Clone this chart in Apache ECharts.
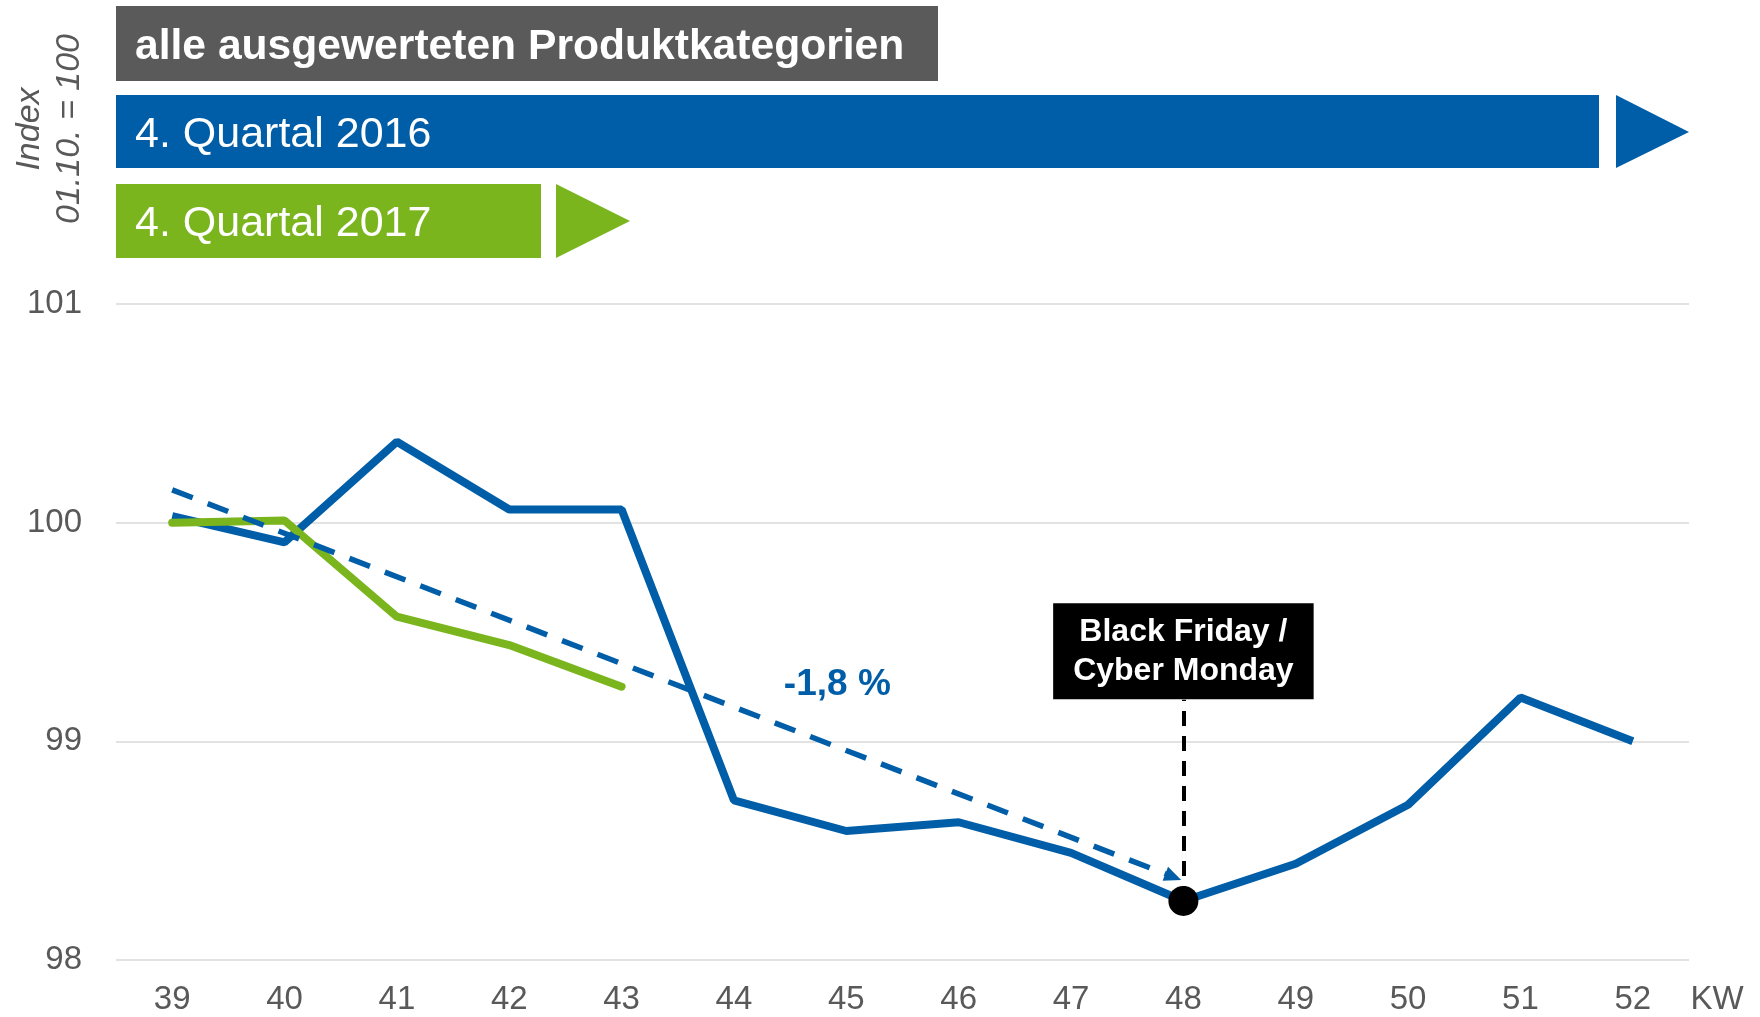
<!DOCTYPE html>
<html>
<head>
<meta charset="utf-8">
<script src="https://cdn.jsdelivr.net/npm/echarts@6/dist/echarts.min.js"></script>
<style>
  html, body { margin: 0; padding: 0; background: #fff; }
  #chart { width: 1760px; height: 1017px; }
</style>
</head>
<body>
<div id="chart"></div>
<script>
const weeks = ['39', '40', '41', '42', '43', '44', '45', '46', '47', '48', '49', '50', '51', '52']
const q2016 = [100.03, 99.91, 100.37, 100.06, 100.06, 98.73, 98.59, 98.63, 98.49, 98.27, 98.44, 98.71, 99.20, 99.00]
const q2017 = [100.0, 100.01, 99.57, 99.44, 99.25]
// trend arrow: start week / value, end week / value
const trendFrom = [39, 100.15]
const trendTo = [47.91, 98.38]
const trendLabel = '-1,8 %'
const trendLabelAt = [44.92, 99.26]
const eventWeek = '48'
const eventValue = 98.27
const eventBoxValue = 99.19
const eventText = 'Black Friday /\nCyber Monday'

const blue = '#005EA8'
const green = '#7AB51D'
const grey = '#595959'
const font = 'Liberation Sans, Arial, sans-serif'

const chart = echarts.init(document.getElementById('chart'))
const option = {
  animation: false,
  grid: { left: 116, right: 71, top: 304, bottom: 57 },
  xAxis: [
    {
      type: 'category',
      data: weeks,
      boundaryGap: true,
      axisLine: { show: false },
      axisTick: { show: false },
      axisLabel: { color: grey, fontSize: 33, fontFamily: font, margin: 23 }
    },
    // hidden value axis for annotations between weeks
    { type: 'value', min: 38.5, max: 52.5, show: false }
  ],
  yAxis: {
    type: 'value',
    min: 98,
    max: 101,
    interval: 1,
    axisLine: { show: false },
    axisTick: { show: false },
    axisLabel: { color: grey, fontSize: 33, fontFamily: font, margin: 34 },
    splitLine: { lineStyle: { color: '#D9D9D9', width: 1.5 } }
  },
  series: [
    {
      name: '4. Quartal 2016',
      type: 'line',
      data: q2016,
      symbol: 'none',
      z: 3,
      lineStyle: { color: blue, width: 8 },
      markLine: {
        silent: true,
        symbol: ['none', 'none'],
        lineStyle: { color: '#000', width: 4, type: [15, 10] },
        label: { show: false },
        data: [[{ coord: [eventWeek, eventValue] }, { coord: [eventWeek, eventBoxValue] }]]
      },
      markPoint: {
        silent: true,
        data: [
          {
            coord: [eventWeek, eventValue],
            symbol: 'circle',
            symbolSize: 30,
            itemStyle: { color: '#000' },
            label: { show: false }
          },
          {
            coord: [eventWeek, eventBoxValue],
            symbol: 'circle',
            symbolSize: 1,
            itemStyle: { color: 'rgba(0,0,0,0)' },
            label: {
              show: true,
              position: 'top',
              distance: 0,
              formatter: eventText,
              color: '#fff',
              fontSize: 32,
              fontWeight: 'bold',
              fontFamily: font,
              lineHeight: 39,
              align: 'center',
              backgroundColor: '#000',
              padding: [9, 20, 9, 20]
            }
          }
        ]
      }
    },
    {
      name: '4. Quartal 2017',
      type: 'line',
      data: q2017,
      symbol: 'none',
      z: 4,
      lineStyle: { color: green, width: 8, cap: 'round' }
    },
    {
      name: 'Trend',
      type: 'scatter',
      xAxisIndex: 1,
      data: [],
      z: 2,
      markLine: {
        silent: true,
        symbol: ['none', 'triangle'],
        symbolSize: [15, 17],
        lineStyle: { color: blue, width: 5.5, type: [22, 16] },
        label: { show: false },
        data: [[{ coord: trendFrom }, { coord: trendTo }]]
      },
      markPoint: {
        silent: true,
        data: [{
          coord: trendLabelAt,
          symbol: 'circle',
          symbolSize: 1,
          itemStyle: { color: 'rgba(0,0,0,0)' },
          label: {
            show: true,
            position: 'inside',
            formatter: trendLabel,
            color: blue,
            fontSize: 37,
            fontWeight: 'bold',
            fontFamily: font
          }
        }]
      }
    }
  ],
  graphic: [
    // y axis caption
    {
      type: 'text', x: 30, y: 129, rotation: Math.PI / 2,
      style: { text: 'Index', fill: grey, font: 'italic 34px ' + font, align: 'center', verticalAlign: 'middle' }
    },
    {
      type: 'text', x: 70, y: 129, rotation: Math.PI / 2,
      style: { text: '01.10. = 100', fill: grey, font: 'italic 34px ' + font, align: 'center', verticalAlign: 'middle' }
    },
    // x axis unit
    {
      type: 'text', x: 1717, y: 1000,
      style: { text: 'KW', fill: grey, font: '33px ' + font, align: 'center', verticalAlign: 'middle' }
    },
    // banners
    { type: 'rect', shape: { x: 116, y: 6, width: 822, height: 75 }, style: { fill: '#5A5A5A' } },
    {
      type: 'text', x: 135, y: 47,
      style: { text: 'alle ausgewerteten Produktkategorien', fill: '#fff', font: 'bold 42.6px ' + font, verticalAlign: 'middle' }
    },
    { type: 'rect', shape: { x: 116, y: 95, width: 1483, height: 73 }, style: { fill: blue } },
    { type: 'polygon', shape: { points: [[1616, 95], [1689, 132], [1616, 168]] }, style: { fill: blue } },
    {
      type: 'text', x: 135, y: 135,
      style: { text: '4. Quartal 2016', fill: '#fff', font: '43px ' + font, verticalAlign: 'middle' }
    },
    { type: 'rect', shape: { x: 116, y: 184, width: 425, height: 74 }, style: { fill: green } },
    { type: 'polygon', shape: { points: [[556, 184], [630, 221], [556, 258]] }, style: { fill: green } },
    {
      type: 'text', x: 135, y: 224,
      style: { text: '4. Quartal 2017', fill: '#fff', font: '43px ' + font, verticalAlign: 'middle' }
    }
  ]
}
chart.setOption(option)

window.addEventListener('resize', function () {
  chart.resize()
})
</script>
</body>
</html>
